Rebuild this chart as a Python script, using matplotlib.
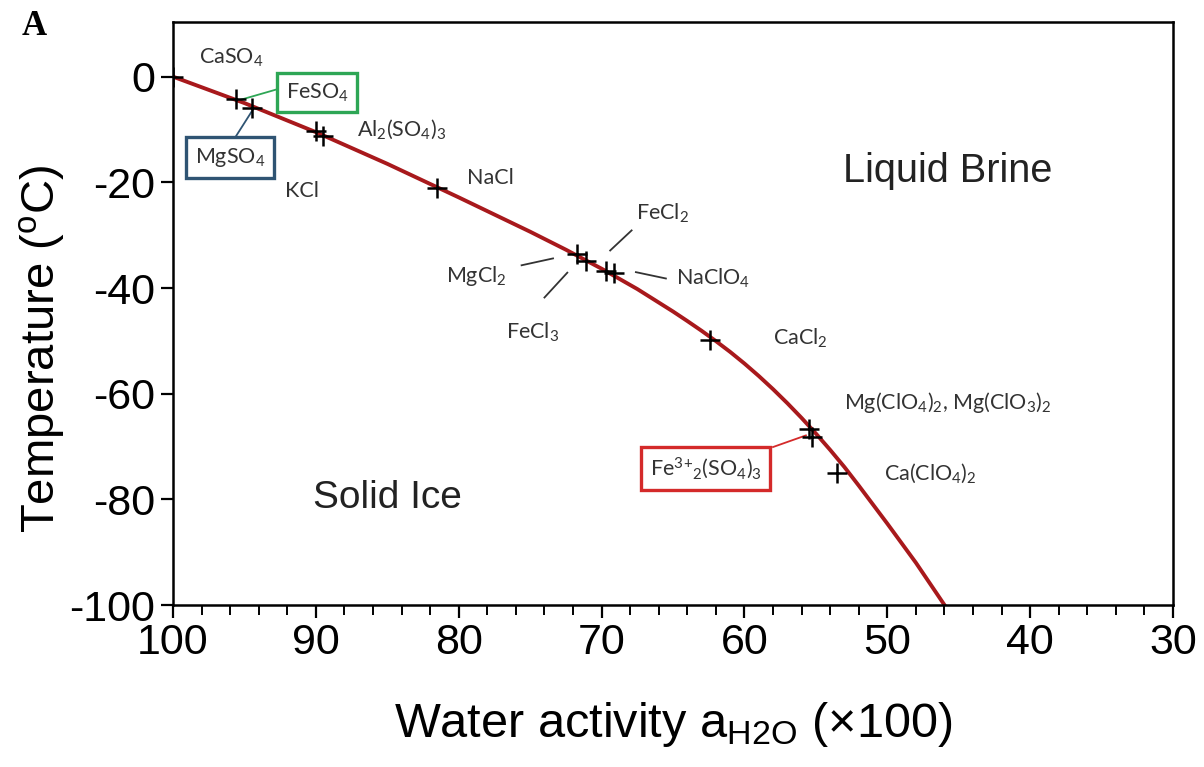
import matplotlib
matplotlib.use("Agg")
import matplotlib.pyplot as plt
from matplotlib.ticker import MultipleLocator

plt.rcParams['mathtext.default'] = 'regular'
plt.rcParams['axes.unicode_minus'] = False

# Freezing curve (eutectic line)
curve_aw = [100, 95, 90, 85, 80, 75, 72.5, 70, 67.5, 65, 64, 63, 62, 61, 60, 59, 58,
            57, 56, 55, 54, 53, 52, 51, 50, 49, 48, 47, 46]
curve_T = [0, -5.0, -10.5, -16.5, -22.85, -29.35, -32.75, -36.35, -40.2, -44.45,
           -46.25, -48.1, -50.05, -52.1, -54.3, -56.65, -59.15, -61.8, -64.6,
           -67.55, -70.65, -73.9, -77.4, -81.0, -84.6, -88.3, -92.0, -96.0, -100]

# Salt eutectic points
salt_aw = [100, 95.6, 94.5, 90.0, 89.5, 81.5, 71.7, 71.1, 69.7, 69.1, 62.4, 55.5, 55.3, 53.5]
salt_T = [0, -4.2, -5.9, -10.2, -11.3, -21.0, -33.5, -34.8, -36.7, -37.2, -49.9, -66.6, -68.2, -75.0]

label_font = ['Lato', 'DejaVu Sans']
sans = ['Liberation Sans', 'DejaVu Sans']

fig = plt.figure(figsize=(12.04, 7.67), dpi=100)
ax = fig.add_axes([0.1437, 0.2112, 0.8306, 0.7598])

ax.plot(curve_aw, curve_T, color='#a8191c', lw=2.8, zorder=2, solid_joinstyle='round')
ax.plot(salt_aw, salt_T, linestyle='none', marker='+', color='black',
        markersize=15, markeredgewidth=1.8, zorder=3)

ax.set_xlim(100, 30)
ax.set_ylim(-100, 10.3)
ax.xaxis.set_major_locator(MultipleLocator(10))
ax.xaxis.set_minor_locator(MultipleLocator(2))
ax.yaxis.set_major_locator(MultipleLocator(20))
ax.tick_params(axis='both', which='major', direction='out', length=9, width=1.6,
               labelsize=31, pad=4)
ax.tick_params(axis='x', which='minor', direction='out', length=7, width=1.4)
for lab in ax.get_xticklabels() + ax.get_yticklabels():
    lab.set_family(sans)
for s in ax.spines.values():
    s.set_linewidth(1.8)

ax.set_xlabel(r'Water activity a$_{\mathregular{H2O}}$ (×100)', fontsize=35,
              family=sans)
ax.xaxis.set_label_coords(0.5, -0.163)
ax.set_ylabel(r'Temperature ($^{\mathregular{o}}$C)', fontsize=34, family=sans)
ax.yaxis.set_label_coords(-0.106, 0.44)

txtc = '#333333'
fs = 15.5


def t(x, y, s, ha='center', va='center', **kw):
    ax.text(x, y, s, ha=ha, va=va, fontsize=fs, color=txtc, family=label_font, **kw)


t(95.9, 3.6, r'CaSO$_4$')
t(91.0, -21.6, 'KCl')
t(87.1, -10.0, r'Al$_2$(SO$_4$)$_3$', ha='left')
t(79.4, -19.1, 'NaCl', ha='left')
t(67.6, -25.9, r'FeCl$_2$', ha='left')
t(78.8, -37.8, r'MgCl$_2$')
t(74.8, -48.4, r'FeCl$_3$')
t(64.8, -38.2, r'NaClO$_4$', ha='left')
t(58.0, -49.5, r'CaCl$_2$', ha='left')
t(53.0, -61.6, r'Mg(ClO$_4$)$_2$, Mg(ClO$_3$)$_2$', ha='left')
t(50.2, -75.0, r'Ca(ClO$_4$)$_2$', ha='left')

# boxed labels
t(89.9, -3.0, r'FeSO$_4$', bbox=dict(boxstyle='square,pad=0.4', fc='white',
                                      ec='#2ea655', lw=2.4))
t(96.0, -15.3, r'MgSO$_4$', bbox=dict(boxstyle='square,pad=0.4', fc='white',
                                       ec='#2f5473', lw=2.4))
t(62.7, -74.1, r'Fe$^{3}$$^{+}$$_{2}$(SO$_4$)$_3$',
  bbox=dict(boxstyle='square,pad=0.4', fc='white', ec='#d42a2a', lw=2.4))

# leader lines
lc = '#333333'
ax.plot([92.6, 95.3], [-2.3, -4.4], color='#2ea655', lw=1.3, zorder=1)
ax.plot([95.6, 94.4], [-11.3, -6.2], color='#2f5473', lw=1.3, zorder=1)
ax.plot([67.9, 69.4], [-29.1, -32.9], color=lc, lw=1.3)
ax.plot([75.6, 73.4], [-35.7, -34.4], color=lc, lw=1.3)
ax.plot([74.0, 72.4], [-41.8, -37.1], color=lc, lw=1.3)
ax.plot([67.6, 65.5], [-37.0, -38.2], color=lc, lw=1.3)
ax.plot([58.0, 55.7], [-70.1, -67.9], color='#d42a2a', lw=1.3)

ax.text(45.8, -17.8, 'Liquid Brine', fontsize=28.5, family=sans, color='#222222',
        ha='center', va='center')
ax.text(85.0, -79.8, 'Solid Ice', fontsize=28, family=sans, color='#222222',
        ha='center', va='center')

fig.text(0.018, 0.965, 'A', fontsize=25, fontweight='bold',
         family=['Liberation Serif', 'DejaVu Serif'], ha='left', va='center')

fig.savefig('out.png', dpi=100, facecolor='white')
